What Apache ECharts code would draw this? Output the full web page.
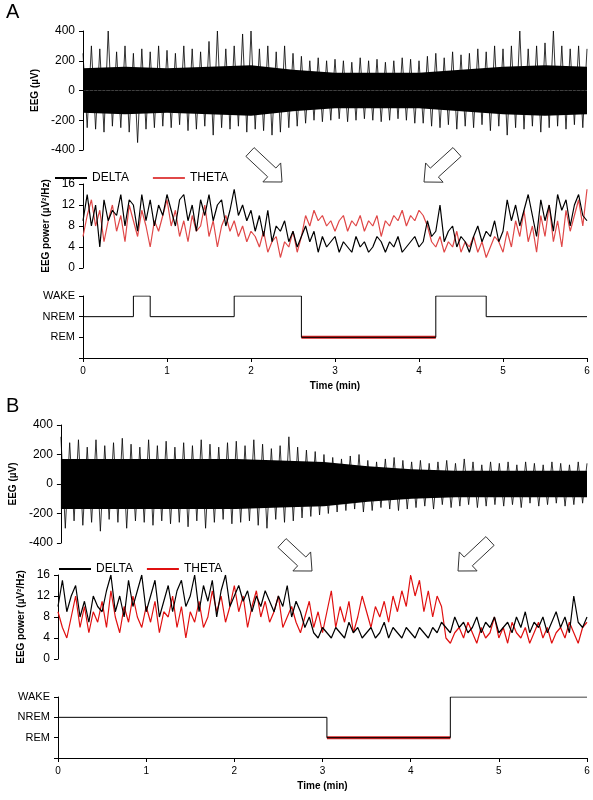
<!DOCTYPE html>
<html><head><meta charset="utf-8">
<script src="https://cdn.jsdelivr.net/npm/echarts@6/dist/echarts.min.js"></script>
<style>html,body{margin:0;background:#fff}#c{width:593px;height:800px}</style>
</head><body><div id="c"></div>
<script>
// EEG envelope (peak values every 0.1 min)
const eegTopA = [250,300,280,400,260,300,250,280,260,300, 270,250,300,280,260,330,400,280,300,380, 400,280,300,260,300,250,230,200,220,200, 210,200,190,220,200,210,190,200,220,210, 200,230,250,220,260,240,250,280,260,300, 280,300,400,280,300,320,400,300,280,300,280];
const eegBotA = [-250,-260,-280,-240,-250,-280,-350,-260,-250,-240, -250,-230,-270,-260,-240,-300,-250,-260,-240,-280, -260,-270,-300,-280,-250,-240,-220,-200,-210,-200, -190,-210,-200,-190,-200,-210,-200,-190,-200,-220, -220,-240,-250,-230,-260,-240,-250,-230,-270,-240, -300,-250,-260,-240,-280,-250,-240,-260,-230,-250,-240];
const eegTopB = [320,280,300,250,300,260,280,310,270,250, 300,260,290,250,280,260,300,270,250,280, 290,260,300,270,240,260,320,250,230,220, 200,180,170,190,200,160,150,170,180,160, 150,160,140,150,160,140,170,150,130,150, 140,150,130,150,140,130,150,140,130,150,140];
const eegBotB = [-300,-250,-280,-260,-320,-240,-260,-300,-250,-260, -280,-250,-270,-260,-290,-250,-300,-260,-240,-270, -260,-250,-280,-300,-240,-260,-250,-230,-220,-210, -200,-190,-180,-170,-190,-180,-160,-170,-180,-170, -160,-150,-170,-140,-160,-150,-140,-160,-150,-140, -150,-140,-160,-130,-150,-140,-130,-150,-140,-130,-140];
// solid core of the EEG trace, every 0.5 min
const coreTopA = [150,160,150,160,170,140,120,120,120,140,160,170,160];
const coreBotA = [-150,-160,-150,-160,-170,-140,-120,-120,-120,-140,-160,-170,-160];
const coreTopB = [170,170,170,170,170,160,150,120,100,90,90,90,90];
const coreBotB = [-170,-170,-170,-170,-170,-160,-150,-120,-100,-90,-90,-90,-90];

// band power every 0.05 min
const deltaA = [9,14,8,12,4,13,9,11,10,14,8,13,12,7,14,9,13,8,12,10,14, 11,8,13,14,9,12,7,13,10,14,9,12,13,8,11,15,10,12,9,11, 7,10,6,11,5,8,7,9,5,7,4,6,8,5,7,3,6,4,5,6, 3,5,4,3,6,4,5,3,4,6,5,3,5,4,6,3,4,5,6,4, 5,9,6,7,12,5,7,8,4,6,5,3,6,8,5,7,6,9,5,7, 13,9,12,8,11,14,10,6,13,9,12,7,14,11,13,8,12,14,10,9];
const thetaA = [6,10,13,8,11,5,9,12,7,10,5,12,9,6,11,8,4,9,7,10,13, 8,11,6,9,5,10,7,8,12,6,9,4,8,10,7,9,6,8,5,7, 6,4,7,3,5,6,2,5,4,7,3,6,10,8,11,9,10,8,9,7, 9,10,7,9,8,10,7,9,8,10,6,9,8,10,9,11,8,10,9,11, 10,8,5,4,6,3,5,4,7,3,5,4,6,3,5,2,4,6,5,3, 7,4,9,6,11,5,8,3,10,6,12,5,9,4,11,7,10,13,8,15];
const deltaB = [10,15,9,12,14,8,11,7,12,10,9,13,16,9,12,8,15,10,13,16,9, 12,15,8,11,14,9,13,15,10,12,16,9,14,11,15,8,13,16,10,12, 14,11,13,9,12,10,13,11,9,12,10,14,8,11,9,6,8,5,4,6, 5,4,6,5,4,7,5,6,4,5,6,4,5,7,4,6,5,4,6,5, 4,6,5,4,6,5,7,6,5,8,6,7,5,6,8,5,7,6,8,5, 6,7,5,8,6,9,5,7,6,8,5,7,9,6,8,5,12,7,6,8];
const thetaB = [9,6,4,8,12,6,10,5,9,7,11,6,13,8,5,10,7,12,8,6,10, 7,11,5,9,8,12,6,10,4,9,7,11,6,8,13,9,12,7,10,14, 9,12,6,10,13,8,11,7,9,12,6,8,10,7,5,8,11,6,9,5, 9,13,6,10,7,11,5,8,12,9,6,10,8,11,7,12,9,13,10,16, 12,15,9,13,8,12,10,4,3,5,6,4,7,5,3,6,4,5,8,4, 6,3,7,5,4,6,3,5,7,4,6,3,5,6,4,7,5,3,6,7];

// hypnogram: 1 REM, 2 NREM, 3 WAKE
const stageNames = {1:'REM', 2:'NREM', 3:'WAKE'};
const hypEdgesA = [0,0.6,0.8,1.8,2.6,4.2,4.8,6];
const hypStageA = [2,3,2,3,1,3,2];
const hypEdgesB = [0,3.05,4.45,6];
const hypStageB = [2,1,3];

const font = 'Liberation Sans, Arial, sans-serif';
const chart = echarts.init(document.getElementById('c'));

const zig = (top, bot) => { const d=[]; top.forEach((v,i)=>{ d.push([i*0.1, v]); if (i<top.length-1) d.push([i*0.1+0.05, bot[i]]); }); return d; };
const step = (arr, dt) => arr.map((v,i)=>[i*dt, v]);
const hyp = (edges, st) => { const d=[]; st.forEach((s,i)=>{ d.push([edges[i], s]); d.push([edges[i+1], s]); }); return d; };
const remSeg = (edges, st) => { const i = st.indexOf(1); return [[edges[i],1],[edges[i+1],1]]; };

const panels = [
  {left:83, eegTop:31, eegH:119, pTop:184, pH:84, hTop:296, hH:62, top:eegTopA, bot:eegBotA, ct:coreTopA, cb:coreBotA, d:deltaA, t:thetaA, e:hypEdgesA, s:hypStageA, theta:'#e04848'},
  {left:58, eegTop:425, eegH:118, pTop:575, pH:84, hTop:697, hH:61, top:eegTopB, bot:eegBotB, ct:coreTopB, cb:coreBotB, d:deltaB, t:thetaB, e:hypEdgesB, s:hypStageB, theta:'#e01010'}
];
const grid=[], xAxis=[], yAxis=[], series=[];
const axLine = {show:true, lineStyle:{color:'#000', width:1}};
const lab = {color:'#000', fontFamily:font, fontSize:12};
const nameStyle = {fontFamily:font, fontSize:10, fontWeight:'bold', color:'#000'};
panels.forEach((p, k) => {
  [[p.eegTop,p.eegH],[p.pTop,p.pH],[p.hTop,p.hH]].forEach(([t,h], j) => {
    grid.push({left:p.left, right:6, top:t, height:h});
    const g = grid.length-1;
    xAxis.push({type:'value', gridIndex:g, min:0, max:6, interval:1, show:j===2,
      axisLine:axLine, axisTick:{show:true, length:4, lineStyle:{color:'#000'}}, splitLine:{show:false},
      axisLabel:{...lab, fontSize:10}, name:'Time (min)', nameLocation:'middle', nameGap:23, nameTextStyle:nameStyle});
    const y = {type:'value', gridIndex:g, axisLine:axLine, splitLine:{show:false},
      axisTick:{show:true, length:4, lineStyle:{color:'#000'}}, axisLabel:lab,
      nameLocation:'middle', nameTextStyle:nameStyle};
    if (j===0) Object.assign(y, {min:-400, max:400, interval:200, name:'EEG (µV)', nameGap:38});
    if (j===1) Object.assign(y, {min:0, max:16, interval:4, name:'EEG power (µV²/Hz)', nameGap:26});
    if (j===2) Object.assign(y, {min:0, max:3, interval:1, axisLabel:{...lab, fontSize:11, formatter:v=>stageNames[v]||''}});
    yAxis.push(y);
  });
  const b = k*3;
  [p.ct, p.cb].forEach(c => series.push({type:'line', xAxisIndex:b, yAxisIndex:b, data:step(c,0.5), symbol:'none',
    lineStyle:{width:0}, areaStyle:{color:'#000', opacity:1, origin:0}, silent:true}));
  series.push({type:'line', xAxisIndex:b, yAxisIndex:b, data:zig(p.top,p.bot), symbol:'none', lineStyle:{color:'#000', width:0.8}, silent:true});
  series.push({type:'line', name:'DELTA', xAxisIndex:b+1, yAxisIndex:b+1, data:step(p.d,0.05), symbol:'none', lineStyle:{color:'#000', width:1.2}, itemStyle:{color:'#000'}, z:3});
  series.push({type:'line', name:'THETA'+(k?' ':''), xAxisIndex:b+1, yAxisIndex:b+1, data:step(p.t,0.05), symbol:'none', lineStyle:{color:p.theta, width:1.2}, itemStyle:{color:p.theta}, z:2});
  series.push({type:'line', xAxisIndex:b+2, yAxisIndex:b+2, data:remSeg(p.e,p.s), symbol:'none', lineStyle:{color:'#d02020', width:3}, z:1});
  series.push({type:'line', xAxisIndex:b+2, yAxisIndex:b+2, data:hyp(p.e,p.s), symbol:'none', lineStyle:{color:'#000', width:1}, z:2});
});

function arrow(x1,y1,x2,y2){
  const L = Math.hypot(x2-x1,y2-y1), a = Math.atan2(y2-y1,x2-x1), hl = 14, sw = 6, hw = 13;
  const pts = [[0,-sw],[L-hl,-sw],[L-hl,-hw],[L,0],[L-hl,hw],[L-hl,sw],[0,sw]]
    .map(([u,v])=>[x1+u*Math.cos(a)-v*Math.sin(a), y1+u*Math.sin(a)+v*Math.cos(a)]);
  return {type:'polygon', shape:{points:pts}, style:{fill:'#fff', stroke:'#333', lineWidth:1}};
}

chart.setOption({
  animation:false,
  grid, xAxis, yAxis, series,
  legend:[
    {data:['DELTA','THETA'], left:50, top:167, itemWidth:32, itemHeight:2, itemGap:24, icon:'rect', textStyle:{fontFamily:font, fontSize:12, color:'#000'}},
    {data:['DELTA','THETA '], left:54, top:558, itemWidth:32, itemHeight:2, itemGap:14, icon:'rect', textStyle:{fontFamily:font, fontSize:12, color:'#000'}}
  ],
  graphic:[
    {type:'text', left:6, top:2, style:{text:'A', font:'20px '+font, fill:'#000'}},
    {type:'text', left:6, top:396, style:{text:'B', font:'20px '+font, fill:'#000'}},
    arrow(250,152,282,182), arrow(457,152,424,182),
    arrow(282,543,312,571), arrow(490,541,458,571)
  ]
});
</script></body></html>
